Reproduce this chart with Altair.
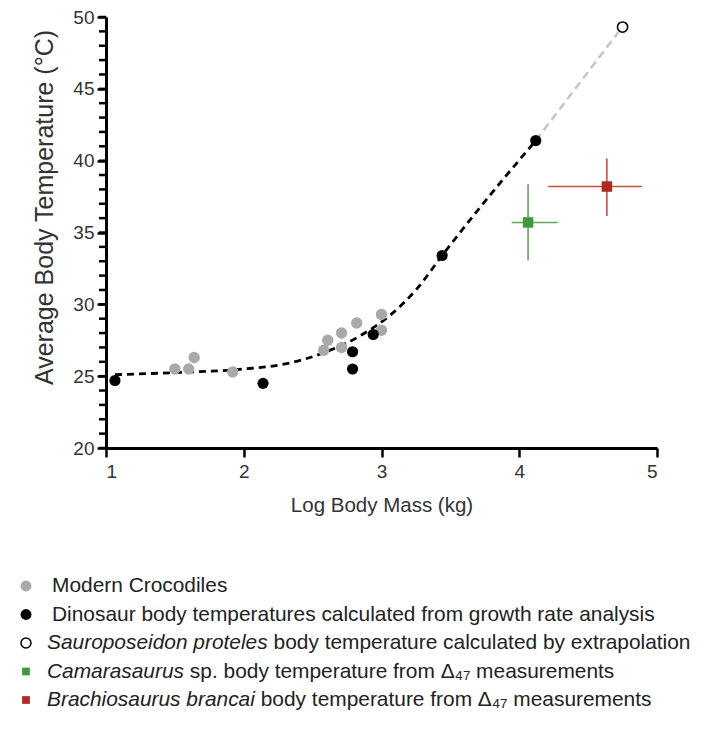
import altair as alt
import pandas as pd

# ---------------- data ----------------
croc_logmass = [1.50, 1.60, 1.64, 1.92, 2.58, 2.61, 2.71, 2.71, 2.82, 3.00, 3.00]
croc_temp = [25.5, 25.5, 26.3, 25.3, 26.8, 27.5, 28.0, 27.0, 28.7, 29.3, 28.2]

dino_logmass = [1.065, 2.14, 2.79, 2.79, 2.94, 3.44, 4.12]
dino_temp = [24.7, 24.5, 26.7, 25.5, 27.9, 33.4, 41.4]

fit_logmass = [1.065, 1.5, 2.0, 2.3, 2.6, 2.87, 3.07, 3.25, 3.44, 3.72, 4.12]
fit_temp = [25.1, 25.25, 25.5, 25.85, 26.7, 27.95, 29.3, 31.0, 33.4, 36.8, 41.4]

extrap_logmass = [4.12, 4.72]
extrap_temp = [41.4, 48.95]

sauro_logmass = [4.75]
sauro_temp = [49.3]

cama = dict(x=[4.064], y=[35.7], xlo=[3.945], xhi=[4.278], ylo=[33.05], yhi=[38.35])
brach = dict(x=[4.636], y=[38.2], xlo=[4.21], xhi=[4.89], ylo=[36.15], yhi=[40.15])

x_ticks = [1, 2, 3, 4, 5]
y_ticks = [20, 25, 30, 35, 40, 45, 50]
y_minor = list(range(20, 51))

legend_italic = ["", "", "Sauroposeidon proteles", "Camarasaurus", "Brachiosaurus brancai"]
legend_rest = [
    "Modern Crocodiles",
    "Dinosaur body temperatures calculated from growth rate analysis",
    "body temperature calculated by extrapolation",
    "sp. body temperature from \u0394\u2084\u2087 measurements",
    "body temperature from \u0394\u2084\u2087 measurements",
]

GRAY = "#a9a9a9"
GREEN = "#3f9a3f"
GREEN_BAR = "#5aa85a"
RED = "#ad2a1e"
RED_BAR = "#c4503e"
FONT = "Liberation Sans"

# ---------------- layout ----------------
W, H = 551, 431
PAD_L, PAD_T = 98, 9
PAD_R = 689 - PAD_L - W
PAD_B = 715 - PAD_T - H

xs = alt.Scale(domain=[1, 5], nice=False, zero=False)
ys = alt.Scale(domain=[20, 50], nice=False, zero=False)
xaxis = alt.Axis(values=x_ticks, title="Log Body Mass (kg)", format="d")
yaxis = alt.Axis(
    values=y_ticks,
    title="Average Body Temperature (\u00b0C)",
    format="d",
    titleX=-62,
    titleY=190,
    titleBaseline="middle",
)


def X(f="x"):
    return alt.X(f"{f}:Q", scale=xs, axis=xaxis)


def Y(f="y"):
    return alt.Y(f"{f}:Q", scale=ys, axis=yaxis)


layers = []

# minor ticks on the y axis
minor_df = pd.DataFrame({"y": y_minor})
layers.append(
    alt.Chart(minor_df).mark_tick(color="black", thickness=2.5, size=7, orient="horizontal", opacity=1).encode(
        y=Y(), x=alt.value(-3.5)
    )
)

# extrapolation line
ext_df = pd.DataFrame({"x": extrap_logmass, "y": extrap_temp})
layers.append(
    alt.Chart(ext_df).mark_line(color="#c4c4c4", strokeWidth=2.5, strokeDash=[8, 5]).encode(x=X(), y=Y())
)

# fitted curve
fit_df = pd.DataFrame({"x": fit_logmass, "y": fit_temp})
layers.append(
    alt.Chart(fit_df).mark_line(color="black", strokeWidth=2.8, strokeDash=[7, 5], interpolate="monotone").encode(
        x=X(), y=Y()
    )
)

# crocodiles
croc_df = pd.DataFrame({"x": croc_logmass, "y": croc_temp})
layers.append(
    alt.Chart(croc_df).mark_circle(color=GRAY, size=130, opacity=1).encode(x=X(), y=Y())
)

# dinosaurs
dino_df = pd.DataFrame({"x": dino_logmass, "y": dino_temp})
layers.append(
    alt.Chart(dino_df).mark_circle(color="black", size=125, opacity=1).encode(x=X(), y=Y())
)

# sauroposeidon
sauro_df = pd.DataFrame({"x": sauro_logmass, "y": sauro_temp})
layers.append(
    alt.Chart(sauro_df).mark_point(shape="circle", color="black", filled=False, size=105, strokeWidth=1.6, opacity=1).encode(
        x=X(), y=Y()
    )
)

# error bars and squares
for d, c_bar, c_pt in [(cama, GREEN_BAR, GREEN), (brach, RED_BAR, RED)]:
    df = pd.DataFrame(d)
    layers.append(
        alt.Chart(df).mark_rule(color=c_bar, strokeWidth=1.6).encode(x=X("xlo"), x2="xhi:Q", y=Y())
    )
    layers.append(
        alt.Chart(df).mark_rule(color=c_bar, strokeWidth=1.6).encode(x=X(), y=Y("ylo"), y2="yhi:Q")
    )
    layers.append(
        alt.Chart(df).mark_square(color=c_pt, size=110, opacity=1).encode(x=X(), y=Y())
    )

# ---------------- legend (below the plot) ----------------
ARIAL_W = {
    "a": 556, "b": 556, "c": 500, "d": 556, "e": 556, "f": 278, "g": 556, "h": 556, "i": 222,
    "j": 222, "k": 500, "l": 222, "m": 833, "n": 556, "o": 556, "p": 556, "q": 556, "r": 333,
    "s": 500, "t": 278, "u": 556, "v": 500, "w": 722, "x": 500, "y": 500, "z": 500, " ": 278,
    "S": 667, "C": 722, "B": 667, ".": 278,
}
LFS = 20.9


def text_w(s):
    return sum(ARIAL_W.get(ch, 556) for ch in s) * LFS / 1000.0


row_y0, row_dy = 569, 28.5
sym_x = 26 - 8 - PAD_L
legend_symbols = [
    dict(kind="circle", color=GRAY, filled=True),
    dict(kind="circle", color="black", filled=True),
    dict(kind="circle", color="black", filled=False),
    dict(kind="square", color=GREEN, filled=True),
    dict(kind="square", color=RED, filled=True),
]

for i, (ital, rest, sym) in enumerate(zip(legend_italic, legend_rest, legend_symbols)):
    ry = row_y0 + i * row_dy
    one = pd.DataFrame({"ital": [ital], "rest": [rest]})
    if sym["kind"] == "circle":
        if sym["filled"]:
            m = alt.Chart(one).mark_circle(color=sym["color"], size=120, opacity=1)
        else:
            m = alt.Chart(one).mark_point(shape="circle", filled=False, color=sym["color"], size=100, strokeWidth=1.5, opacity=1)
    else:
        m = alt.Chart(one).mark_square(color=sym["color"], size=60, opacity=1)
    layers.append(m.encode(x=alt.value(sym_x), y=alt.value(ry)))

    if ital:
        tx = 47 - 8 - PAD_L
        layers.append(
            alt.Chart(one).mark_text(
                align="left", baseline="middle", font=FONT, fontSize=LFS, fontStyle="italic", color="#222"
            ).encode(x=alt.value(tx), y=alt.value(ry), text="ital:N")
        )
        tx2 = tx + text_w(ital + " ")
    else:
        tx2 = 52 - 8 - PAD_L
    layers.append(
        alt.Chart(one).mark_text(
            align="left", baseline="middle", font=FONT, fontSize=LFS, color="#222"
        ).encode(x=alt.value(tx2), y=alt.value(ry), text="rest:N")
    )

chart = (
    alt.layer(*layers)
    .properties(
        width=W,
        height=H,
        autosize=alt.AutoSizeParams(type="none"),
        padding={"left": PAD_L, "top": PAD_T, "right": PAD_R, "bottom": PAD_B},
        background="white",
    )
    .configure_view(stroke=None)
    .configure_axis(
        grid=False,
        domainColor="black",
        domainWidth=3,
        tickColor="black",
        tickWidth=2.5,
        tickSize=9,
        labelFont=FONT,
        labelFontSize=19,
        labelColor="#333",
        labelPadding=3,
        titleFont=FONT,
        titleFontWeight="normal",
        titleColor="#333",
    )
    .configure_axisX(titleFontSize=20.5, titlePadding=14, labelPadding=5)
    .configure_axisY(titleFontSize=25)
)

chart.save("out.html", embed_options={"renderer": "svg", "actions": False})
